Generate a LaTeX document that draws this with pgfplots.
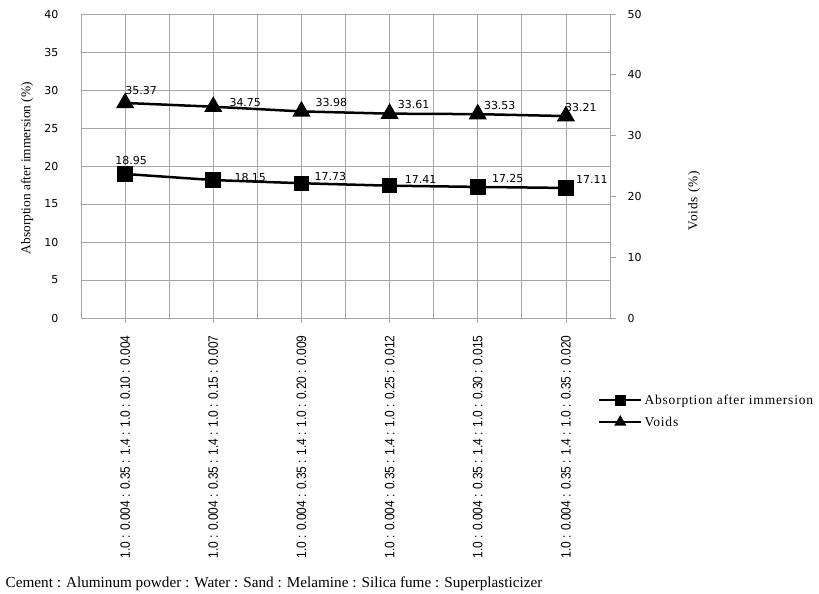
\documentclass[border=0pt]{standalone}
\usepackage{fontspec}
\setmainfont{Liberation Serif}
\newfontfamily\numfont{DejaVu Sans}
\newfontfamily\narrowfont[FakeStretch=0.88]{Liberation Sans}
\newfontfamily\spacedserif[LetterSpace=6]{Liberation Serif}
\usepackage{pgfplots}
\pgfplotsset{compat=1.18}
\pgfplotstableread{
x y lab dx dy
0 18.95 18.95 6 13
1 18.15 18.15 37 3
2 17.73 17.73 29 7
3 17.41 17.41 31 6
4 17.25 17.25 30 8
5 17.11 17.11 26 8
}\absorption
\pgfplotstableread{
x y lab dx dy
0 35.37 35.37 16 12
1 34.75 34.75 32 4
2 33.98 33.98 30 9
3 33.61 33.61 24 9
4 33.53 33.53 22 9
5 33.21 33.21 15 9
}\voids
\definecolor{gridgray}{RGB}{165,165,165}
\begin{document}
\begin{tikzpicture}
\pgfplotsset{
  common/.style={
    at={(0,0)}, anchor=south west,
    scale only axis, width=529bp, height=304bp,
    xmin=-0.5, xmax=5.5,
    /pgf/number format/assume math mode=true,
    tick label style={font=\numfont\fontsize{11bp}{13bp}\selectfont},
    axis line style={gridgray, line width=0.8pt},
    tick style={gridgray, line width=0.8pt},
  },
  lbl/.style={
    nodes near coords,
    point meta=explicit symbolic,
    visualization depends on={\thisrow{dx} \as \dx},
    visualization depends on={\thisrow{dy} \as \dy},
    every node near coord/.append style={anchor=center, xshift=\dx bp, yshift=\dy bp,
      font=\numfont\fontsize{11bp}{13bp}\selectfont, text=black, inner sep=0pt},
  },
}
\begin{axis}[common,
  ymin=0, ymax=40, ytick={0,5,...,40},
  xtick={0,...,5},
  minor xtick={-0.5,0.5,...,5.5},
  xticklabels={
    {1.0 : 0.004 : 0.35 : 1.4 : 1.0 : 0.10 : 0.004},
    {1.0 : 0.004 : 0.35 : 1.4 : 1.0 : 0.15 : 0.007},
    {1.0 : 0.004 : 0.35 : 1.4 : 1.0 : 0.20 : 0.009},
    {1.0 : 0.004 : 0.35 : 1.4 : 1.0 : 0.25 : 0.012},
    {1.0 : 0.004 : 0.35 : 1.4 : 1.0 : 0.30 : 0.015},
    {1.0 : 0.004 : 0.35 : 1.4 : 1.0 : 0.35 : 0.020}},
  xticklabel style={rotate=90, anchor=east, font=\narrowfont\fontsize{13.6bp}{15bp}\selectfont},
  xticklabel shift=9bp,
  xtick pos=bottom, ytick pos=left, tick align=outside,
  major x tick style={gridgray},
  major tick length=5bp, minor tick length=0pt,
  y tick style={draw=none},
  yticklabel style={xshift=-14bp},
  xmajorgrids, xminorgrids, ymajorgrids,
  grid style={gridgray, line width=0.8pt},
  minor grid style={gridgray, line width=0.8pt},
  ylabel={Absorption after immersion (\%)},
  ylabel style={at={(axis description cs:-0.102,0.493)}, anchor=center,
    font=\fontsize{13.4bp}{15bp}\selectfont},
  xlabel={Cement : Aluminum powder : Water : Sand : Melamine : Silica fume : Superplasticizer},
  xlabel style={at={(axis description cs:-0.149,-0.888)}, anchor=base west,
    font=\fontsize{15.2bp}{17bp}\selectfont},
]
\addplot[black, line width=2.5bp, mark=square*, mark size=6.5bp, lbl] table[x=x, y=y, meta=lab] {\absorption};
\end{axis}
\begin{axis}[common,
  ymin=0, ymax=50, ytick={0,10,...,50},
  axis y line*=right, axis x line=none,
  tick align=outside, major tick length=6bp,
  yticklabel style={xshift=8bp},
  ylabel={Voids (\%)},
  ylabel style={at={(axis description cs:1.159,0.385)}, anchor=center, rotate=0,
    font=\spacedserif\fontsize{13.4bp}{15bp}\selectfont},
  legend style={at={(axis description cs:0.977,-0.245)}, anchor=north west,
    draw=none, fill=none, font=\spacedserif\fontsize{13.5bp}{15bp}\selectfont,
    row sep=7bp, inner sep=0pt},
  legend cell align=left,
  legend image code/.code={\draw[#1, mark size=4.5bp, mark repeat=2, mark phase=2] plot coordinates {(0bp,0bp) (21bp,0bp) (42bp,0bp)};},
]
\addlegendimage{black, line width=2bp, mark=square*}
\addlegendentry{Absorption after immersion}
\addplot[black, line width=2.5bp, mark=triangle*, mark size=8bp, lbl] table[x=x, y=y, meta=lab] {\voids};
\addlegendentry{Voids}
\end{axis}
\pgfresetboundingbox
\path[use as bounding box] (-81bp,-276bp) rectangle (738bp,318bp);
\end{tikzpicture}
\end{document}
